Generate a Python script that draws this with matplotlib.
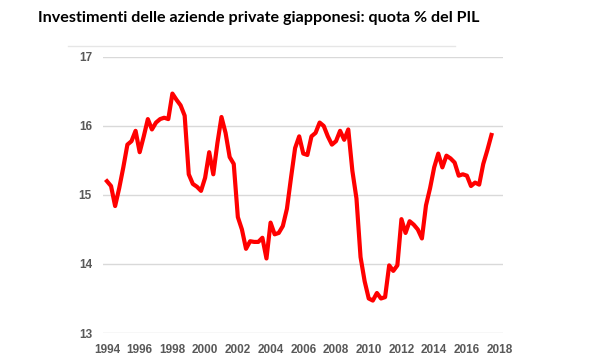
import matplotlib
matplotlib.use("Agg")
import matplotlib.pyplot as plt
import numpy as np
from matplotlib.lines import Line2D

# quarterly observations, 1994 Q1 .. 2017 Q3
start_year = 1994
quota_pil = [
    15.20, 15.13, 14.84, 15.10,   # 1994
    15.40, 15.73, 15.78, 15.93,   # 1995
    15.62, 15.85, 16.10, 15.95,   # 1996
    16.05, 16.10, 16.12, 16.10,   # 1997
    16.47, 16.38, 16.30, 16.15,   # 1998
    15.30, 15.16, 15.12, 15.06,   # 1999
    15.25, 15.62, 15.30, 15.75,   # 2000
    16.13, 15.90, 15.55, 15.45,   # 2001
    14.68, 14.50, 14.22, 14.33,   # 2002
    14.32, 14.32, 14.38, 14.08,   # 2003
    14.60, 14.43, 14.45, 14.55,   # 2004
    14.80, 15.25, 15.68, 15.85,   # 2005
    15.60, 15.58, 15.85, 15.90,   # 2006
    16.05, 16.00, 15.85, 15.73,   # 2007
    15.78, 15.93, 15.80, 15.95,   # 2008
    15.35, 14.95, 14.10, 13.75,   # 2009
    13.50, 13.47, 13.58, 13.50,   # 2010
    13.52, 13.98, 13.90, 13.98,   # 2011
    14.65, 14.45, 14.62, 14.57,   # 2012
    14.50, 14.37, 14.85, 15.10,   # 2013
    15.40, 15.60, 15.40, 15.57,   # 2014
    15.53, 15.47, 15.28, 15.30,   # 2015
    15.28, 15.13, 15.18, 15.15,   # 2016
    15.45, 15.65, 15.87,          # 2017
]
year_ticks = list(range(1994, 2019, 2))
y_ticks = [13, 14, 15, 16, 17]
title = "Investimenti delle aziende private giapponesi: quota % del PIL"

x = start_year + np.arange(len(quota_pil)) / 4.0

fig = plt.figure(figsize=(6, 3.6), dpi=100)
ax = fig.add_axes([0.1717, 0.075, 0.667, 0.7667])

ax.plot(x, quota_pil, color="#ff0000", linewidth=3.0, solid_joinstyle="round")

ax.set_xlim(1993.76, 2018.22)
ax.set_ylim(13, 17)
ax.set_xticks(year_ticks)
ax.set_yticks(y_ticks)
ax.grid(axis="y", color="#d9d9d9", linewidth=1.0)
ax.set_axisbelow(True)
for s in ax.spines.values():
    s.set_visible(False)
ax.tick_params(length=0, labelsize=8.5, labelcolor="#595959")
ax.tick_params(axis="x", pad=8)
ax.tick_params(axis="y", pad=8)
for lab in ax.get_xticklabels() + ax.get_yticklabels():
    lab.set_fontfamily("Liberation Sans")
    lab.set_fontweight("bold")

fig.text(0.432, 0.95, title, ha="center", va="center",
         fontsize=11.6, fontweight="bold", family="Lato", color="#000000")
# faint top border of the original chart box
fig.add_artist(Line2D([68 / 600, 455 / 600], [1 - 46 / 360] * 2,
                      transform=fig.transFigure, color="#e6e6e6", linewidth=1))

fig.savefig("out.png", dpi=100)
